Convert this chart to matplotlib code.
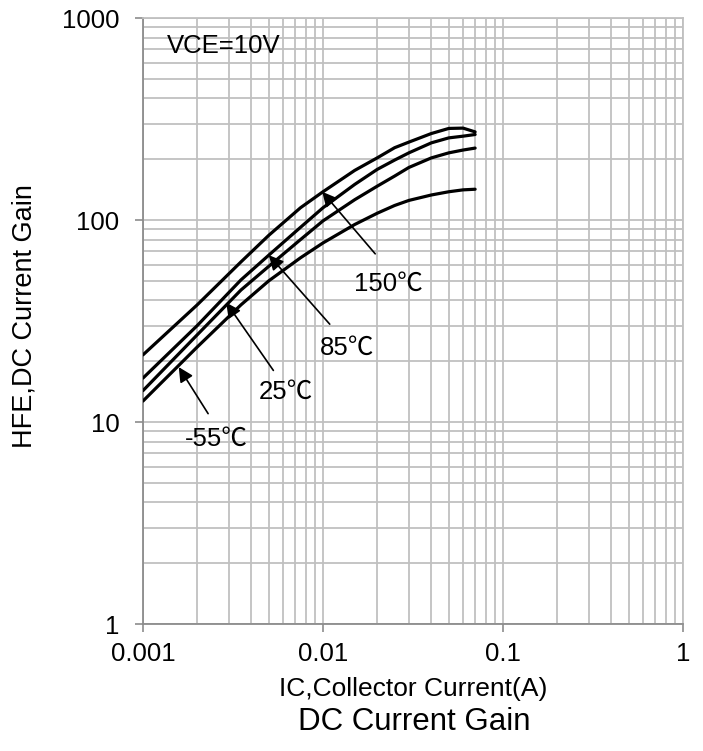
import matplotlib
matplotlib.use("Agg")
import matplotlib.pyplot as plt
import numpy as np

plt.rcParams['font.family'] = ['Liberation Sans', 'Noto Sans CJK SC', 'DejaVu Sans']

# collector current (A)
ic = [0.001, 0.002, 0.0035, 0.005, 0.0075, 0.01, 0.015, 0.02, 0.025, 0.03, 0.04, 0.05, 0.06, 0.07]
# hFE per temperature
hfe_150 = [21.5, 38, 62, 84, 115, 138, 176, 203, 228, 243, 268, 284, 285, 273]
hfe_85 = [16.5, 30, 50.5, 67, 92, 115, 150, 178, 198, 215, 241, 255, 260, 265]
hfe_25 = [14.3, 27, 45, 59, 80, 99, 126, 147, 165, 182, 203, 215, 222, 227]
hfe_m55 = [12.7, 23.5, 38, 50, 65, 77, 95, 108, 118, 125, 133, 138, 141, 142]

# label text, text position, arrow tail, arrow tip
labels = ['150\u2103', '85\u2103', '25\u2103', '-55\u2103']
label_xy = [(0.023, 48.5), (0.0136, 23.3), (0.0062, 14.1), (0.00255, 8.3)]
tail_xy = [(0.0195, 68), (0.0109, 30.5), (0.0053, 18.0), (0.0023, 11.0)]
tip_xy = [(0.0099, 138), (0.005, 67), (0.0029, 39), (0.00158, 18.7)]

xticks = [0.001, 0.01, 0.1, 1]
xtick_labels = ['0.001', '0.01', '0.1', '1']
yticks = [1, 10, 100, 1000]
ytick_labels = ['1', '10', '100', '1000']

fig = plt.figure(figsize=(7.03, 7.51), dpi=100)
ax = fig.add_axes([143/703, 1-624/751, 540/703, 606/751])

ax.set_xscale('log')
ax.set_yscale('log')
ax.set_xlim(0.001, 1)
ax.set_ylim(1, 1000)

ax.grid(True, which='both', color='#c0c0c0', linewidth=1.3)
ax.set_axisbelow(True)

for y in [hfe_150, hfe_85, hfe_25, hfe_m55]:
    ax.plot(ic, y, color='black', linewidth=2.3, solid_capstyle='round', zorder=3)

for txt, lxy, txy, pxy in zip(labels, label_xy, tail_xy, tip_xy):
    ax.annotate('', xy=pxy, xytext=txy,
                arrowprops=dict(arrowstyle='-|>', color='black', lw=1.2,
                                mutation_scale=22, shrinkA=0, shrinkB=0), zorder=4)
    ax.text(lxy[0], lxy[1], txt, fontsize=18.5, ha='center', va='center', zorder=4)

ax.text(0.00136, 725, 'VCE=10V', fontsize=18.5, ha='left', va='center')

ax.set_xticks(xticks)
ax.set_xticklabels(xtick_labels)
ax.set_yticks(yticks)
ax.set_yticklabels(ytick_labels)
ax.tick_params(which='minor', length=0)
ax.tick_params(which='major', length=6, width=1.2, color='#8c8c8c', labelsize=18.5)
ax.tick_params(axis='x', pad=7)
ax.tick_params(axis='y', pad=11)

for s in ['top', 'right']:
    ax.spines[s].set_color('#c0c0c0')
    ax.spines[s].set_linewidth(1.3)
for s in ['left', 'bottom']:
    ax.spines[s].set_color('#8c8c8c')
    ax.spines[s].set_linewidth(1.3)

fig.text(413/703, 1-689/751, 'IC,Collector Current(A)', fontsize=19, ha='center', va='center')
fig.text(25/703, 1-316/751, 'HFE,DC Current Gain', fontsize=19.5, ha='center', va='center', rotation=90)
fig.text(414/703, 1-722/751, 'DC Current Gain', fontsize=22.5, ha='center', va='center')

fig.savefig('out.png', dpi=100)
